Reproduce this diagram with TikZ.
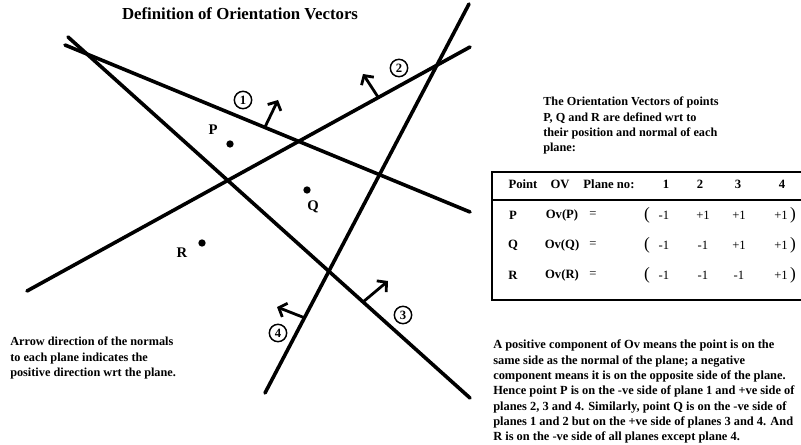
\documentclass[tikz,border=0pt]{standalone}
\usepackage{fontspec}
\setmainfont{Liberation Serif}
\usetikzlibrary{arrows.meta,positioning}

\begin{document}
\begin{tikzpicture}[x=0.75pt, y=-0.75pt,
  plane/.style={line width=2.7pt, line cap=round},
  normal/.style={line width=2.1pt, -{Straight Barb[length=5pt, width=11pt]}},
  num/.style={draw, circle, line width=1.1pt, inner sep=0pt,
    minimum size=13pt, font=\bfseries\fontsize{9.5}{9.5}\selectfont},
  dot/.style={circle, fill, inner sep=0pt, minimum size=5.5pt},
  ptlabel/.style={font=\bfseries\fontsize{11}{11}\selectfont},
  note/.style={anchor=north west, align=left, inner sep=0pt,
    font=\bfseries\fontsize{9.2}{11.5}\selectfont},
  head/.style={font=\bfseries\fontsize{9.5}{9.5}\selectfont},
  cell/.style={font=\fontsize{9.5}{9.5}\selectfont},
  paren/.style={font=\fontsize{13}{13}\selectfont},
  frame/.style={line width=2.2pt}]
\useasboundingbox (0,0) rectangle (801,445);

\node[font=\bfseries\fontsize{12.6}{12.6}\selectfont] (title) at (240,14)
  {Definition of Orientation Vectors};

% the four planes
\coordinate (a1) at (65,45);   \coordinate (b1) at (470,212);
\coordinate (a2) at (27,291);  \coordinate (b2) at (470,47);
\coordinate (a3) at (68,37);   \coordinate (b3) at (470,398);
\coordinate (a4) at (265,393); \coordinate (b4) at (469,4);
\draw[plane] (a1) -- (b1);
\draw[plane] (a2) -- (b2);
\draw[plane] (a3) -- (b3);
\draw[plane] (a4) -- (b4);

% normals
\coordinate (f1) at (265,127); \coordinate (t1) at (278,100);
\coordinate (f2) at (378,97);  \coordinate (t2) at (363,74);
\coordinate (f3) at (363,302); \coordinate (t3) at (388,281);
\coordinate (f4) at (305,318); \coordinate (t4) at (277,307);
\draw[normal] (f1) -- (t1);
\draw[normal] (f2) -- (t2);
\draw[normal] (f3) -- (t3);
\draw[normal] (f4) -- (t4);

\node[num] (n1) at (243,100) {1};
\node[num] (n2) at (399,68) {2};
\node[num] (n3) at (403,315) {3};
\node[num] (n4) at (278,333) {4};

% points
\node[dot] (P) at (230,144) {};
\node[dot] (Q) at (307,190) {};
\node[dot] (R) at (202,243) {};
\node[ptlabel] (lP) at (213,130) {P};
\node[ptlabel] (lQ) at (313,207) {Q};
\node[ptlabel] (lR) at (182,253) {R};

% notes
\node[note] (left) at (10,337)
  {Arrow direction of the normals\\to each plane indicates the\\positive direction wrt the plane.};
\node[note] (intro) at (543,97)
  {The Orientation Vectors of points\\P, Q and R are defined wrt to\\their position and normal of each\\plane:};
\node[note, font=\bfseries\fontsize{9.3}{11.5}\selectfont] (expl) at (493,340)
  {A positive component of Ov means the point is on the\\
   same side as the normal of the plane; a negative\\
   component means it is on the opposite side of the plane.\\
   Hence point P is on the -ve side of plane 1 and +ve side of\\
   planes 2, 3 and 4. Similarly, point Q is on the -ve side of\\
   planes 1 and 2 but on the +ve side of planes 3 and 4. And\\
   R is on the -ve side of all planes except plane 4.};

% table
\draw[frame] (806,172) -- (492,172) -- (492,300) -- (806,300);
\draw[frame] (492,200) -- (806,200);
\node[head] (hpt) at (523,184) {Point};
\node[head] (hov) at (560,184) {OV};
\node[head] (hpl) at (609,184) {Plane no:};
\foreach \k/\x in {1/666, 2/700, 3/738, 4/782}
  \node[head] (h\k) at (\x,184) {\k};

\foreach \p/\y/\va/\vb/\vc/\vd in {P/215/-1/+1/+1/+1, Q/245/-1/-1/+1/+1, R/275/-1/-1/-1/+1} {
  \node[head] (r\p) at (513,\y) {\p};
  \node[head] (ov\p) at (562,\y) {Ov(\p)};
  \node[cell] (eq\p) at (593,\y) {=};
  \node[paren] (lb\p) at (647,\y) {(};
  \node[cell] (va\p) at (664,\y) {\va};
  \node[cell] (vb\p) at (703,\y) {\vb};
  \node[cell] (vc\p) at (739,\y) {\vc};
  \node[cell] (vd\p) at (781,\y) {\vd};
  \node[paren] (rb\p) at (793,\y) {)};
}
\end{tikzpicture}
\end{document}
